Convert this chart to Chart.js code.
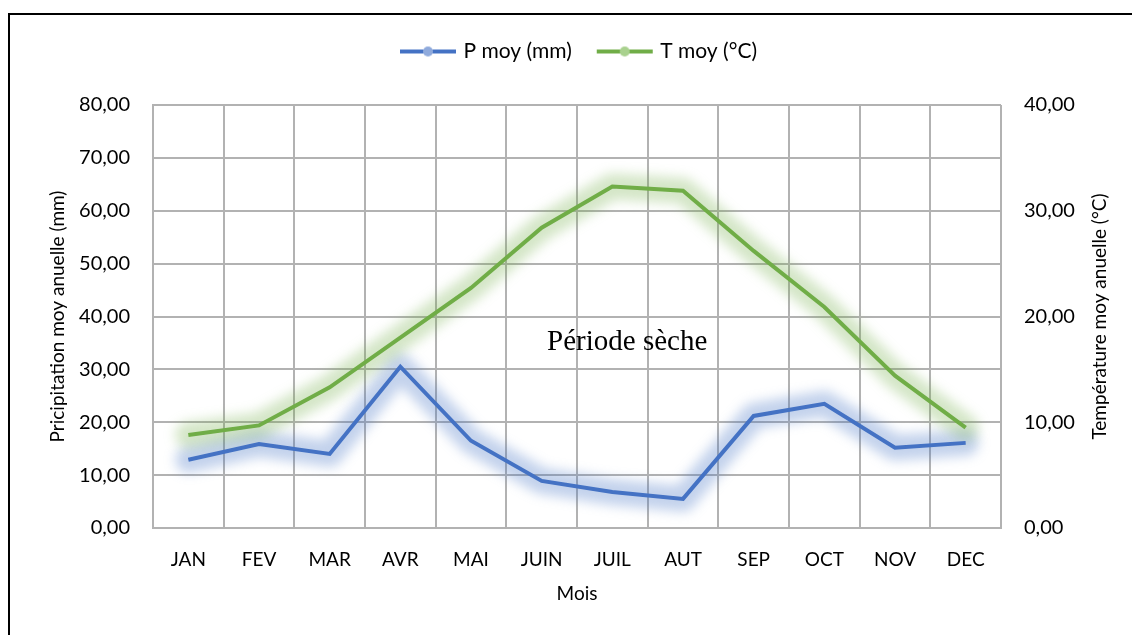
<!DOCTYPE html>
<html>
<head>
<meta charset="utf-8">
<script src="https://cdn.jsdelivr.net/npm/chart.js@4"></script>
<style>
    html, body { margin: 0; padding: 0; background: #fff; overflow: hidden; }
    #frame { position: absolute; left: 8px; top: 13px; width: 1300px; height: 800px; border: 2px solid #000; }
    #wrap { position: absolute; left: 0; top: 0; width: 1132px; height: 635px; }
</style>
</head>
<body>
<div id="frame"></div>
<div id="wrap"><canvas id="climate-chart"></canvas></div>
<script>
// Monthly values
const months = ['JAN', 'FEV', 'MAR', 'AVR', 'MAI', 'JUIN', 'JUIL', 'AUT', 'SEP', 'OCT', 'NOV', 'DEC'];
const precipitation = [12.9, 15.9, 14.0, 30.5, 16.5, 8.9, 6.8, 5.5, 21.2, 23.5, 15.2, 16.1];
const temperature = [8.8, 9.7, 13.3, 18.0, 22.7, 28.4, 32.3, 31.9, 26.2, 20.9, 14.4, 9.5];
const precipRange = [0, 80];
const tempRange = [0, 40];
const dryLabel = 'Période sèche';
const tempTitle = 'Température moy anuelle (°C)';

const uiFont = 'Lato';
const gridColor = '#b2b2b2';

// small line + dot picture used as the legend marker
function legendMark(lineColor, dotColor) {
    const c = document.createElement('canvas');
    c.width = 58;
    c.height = 12;
    const g = c.getContext('2d');
    g.strokeStyle = lineColor;
    g.lineWidth = 4;
    g.beginPath();
    g.moveTo(1, 6);
    g.lineTo(57, 6);
    g.stroke();
    g.fillStyle = dotColor;
    g.beginPath();
    g.arc(29, 6, 5, 0, Math.PI * 2);
    g.fill();
    return c;
}

const fmt = v => v.toFixed(2).replace('.', ',');

// soft glow behind each line, traced through the line's own points
const glowColors = ['rgba(68,114,196,0.32)', 'rgba(112,173,71,0.3)'];
const glowPlugin = {
    id: 'glow',
    beforeDatasetsDraw(chart) {
        const ctx = chart.ctx;
        chart.data.datasets.forEach((ds, i) => {
            const pts = chart.getDatasetMeta(i).data;
            ctx.save();
            ctx.filter = 'blur(6px)';
            ctx.strokeStyle = glowColors[i];
            ctx.lineWidth = 26;
            ctx.lineJoin = 'round';
            ctx.lineCap = 'round';
            ctx.beginPath();
            pts.forEach((p, k) => k ? ctx.lineTo(p.x, p.y) : ctx.moveTo(p.x, p.y));
            ctx.stroke();
            ctx.restore();
        });
    }
};

// "Période sèche" note and the right axis title (read bottom to top)
const textPlugin = {
    id: 'texts',
    afterDatasetsDraw(chart) {
        const ctx = chart.ctx;
        const x = chart.scales.x.getPixelForValue(6.21);
        const y = chart.scales.y.getPixelForValue(33.7);
        ctx.save();
        ctx.font = '29px "Liberation Serif"';
        ctx.fillStyle = '#000';
        ctx.textAlign = 'center';
        ctx.textBaseline = 'alphabetic';
        ctx.fillText(dryLabel, x, y);
        ctx.restore();

        const s = chart.scales.y1;
        ctx.save();
        ctx.translate(s.right - 32, (s.top + s.bottom) / 2);
        ctx.rotate(-Math.PI / 2);
        ctx.font = '19px ' + uiFont;
        ctx.fillStyle = '#000';
        ctx.textAlign = 'center';
        ctx.textBaseline = 'middle';
        ctx.fillText(tempTitle, 0, 0);
        ctx.restore();
    }
};

// leave a gap between the legend and the plot
const legendGap = {
    id: 'legendGap',
    beforeUpdate(chart) {
        const lg = chart.legend;
        if (lg && !lg._gapPatched) {
            const fit = lg.fit;
            lg.fit = function () {
                fit.call(this);
                this.height = 92;
            };
            lg._gapPatched = true;
        }
    }
};

const ctx = document.getElementById('climate-chart').getContext('2d');
new Chart(ctx, {
    type: 'line',
    data: {
        labels: months,
        datasets: [{
            label: 'P moy (mm)',
            data: precipitation,
            yAxisID: 'y',
            borderColor: '#4472c4',
            backgroundColor: '#4472c4',
            borderWidth: 4,
            pointRadius: 0,
            pointStyle: legendMark('#4472c4', '#8faadc'),
            tension: 0
        }, {
            label: 'T moy (°C)',
            data: temperature,
            yAxisID: 'y1',
            borderColor: '#70ad47',
            backgroundColor: '#70ad47',
            borderWidth: 4,
            pointRadius: 0,
            pointStyle: legendMark('#70ad47', '#a9d18e'),
            tension: 0
        }]
    },
    options: {
        responsive: true,
        maintainAspectRatio: false,
        animation: false,
        layout: { padding: { top: 13, left: 28, right: 0, bottom: 0 } },
        plugins: {
            legend: {
                position: 'top',
                labels: {
                    usePointStyle: true,
                    pointStyleWidth: 50,
                    padding: 28,
                    color: '#000',
                    font: { family: uiFont, size: 21 }
                }
            },
            tooltip: { enabled: false }
        },
        scales: {
            x: {
                offset: true,
                grid: { offset: true, color: gridColor, lineWidth: 2, drawTicks: false },
                border: { color: gridColor, width: 2 },
                ticks: { color: '#000', padding: 20, font: { family: uiFont, size: 19 } },
                title: {
                    display: true, text: 'Mois', color: '#000',
                    font: { family: uiFont, size: 19 },
                    padding: { top: 0, bottom: 30 }
                },
                afterFit(scale) { scale.height = 107; }
            },
            y: {
                position: 'left',
                min: precipRange[0],
                max: precipRange[1],
                grid: { color: gridColor, lineWidth: 2, drawTicks: false },
                border: { color: gridColor, width: 2 },
                ticks: { stepSize: 10, color: '#000', padding: 23, callback: fmt, font: { family: uiFont, size: 20 } },
                title: {
                    display: true, text: 'Pricipitation moy anuelle (mm)', color: '#000',
                    font: { family: uiFont, size: 19 },
                    padding: { top: 18, bottom: 0 }
                },
                afterFit(scale) { scale.width = 125; }
            },
            y1: {
                position: 'right',
                min: tempRange[0],
                max: tempRange[1],
                grid: { display: false, drawTicks: false },
                border: { display: false },
                ticks: { stepSize: 10, color: '#000', padding: 23, callback: fmt, font: { family: uiFont, size: 20 } },
                afterFit(scale) { scale.width = 131; }
            }
        }
    },
    plugins: [legendGap, glowPlugin, textPlugin]
});
</script>
</body>
</html>
